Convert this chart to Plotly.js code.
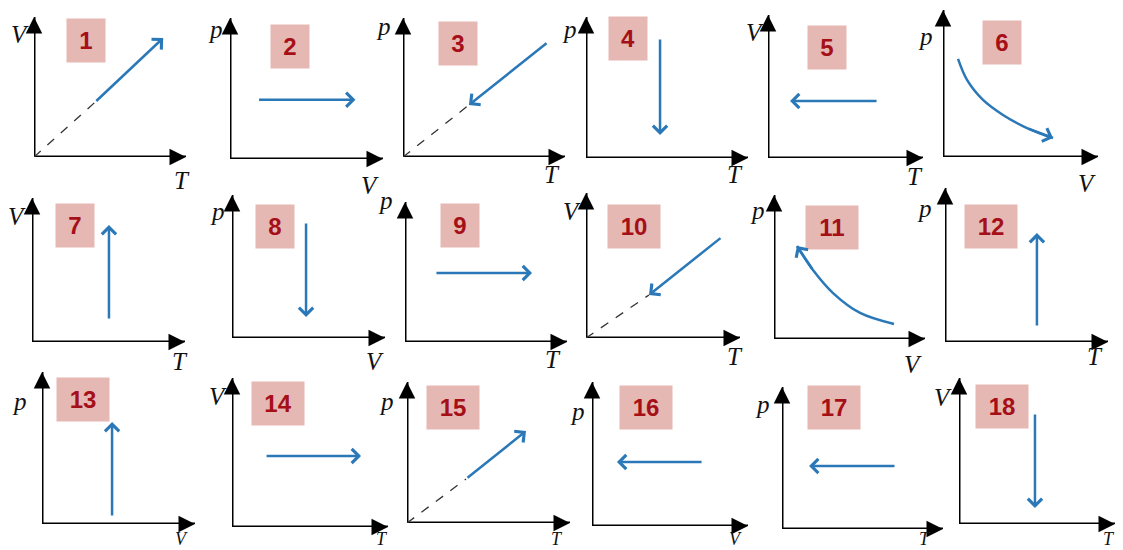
<!DOCTYPE html>
<html>
<head>
<meta charset="utf-8">
<script src="https://cdn.plot.ly/plotly-3.0.1.min.js"></script>
<style>
  html, body { margin: 0; padding: 0; background: #fff; }
  #chart { width: 1123px; height: 550px; }
</style>
</head>
<body>
<div id="chart"></div>
<script>
// Process diagrams: 18 small p-V-T panels, each drawn in its own 0..10 axes

// Panel numbers and axis names
const panelIds = ['1','2','3','4','5','6','7','8','9','10','11','12','13','14','15','16','17','18'];
const yNames = ['V','p','p','p','V','p','V','p','p','V','p','p','p','V','p','p','p','V'];
const xNames = ['T','V','T','T','T','V','T','V','T','T','V','T','V','T','T','V','T','T'];

// Straight process arrows: start and end point in panel units (null = curved panel)
const arrowFrom = [
  [4.0, 3.9], [1.8, 4.2], [8.95, 8.27], [4.57, 8.51], [7.10, 3.99], null,
  [5.03, 1.53], [4.84, 8.11], [1.85, 4.93], [8.83, 6.97], null, [5.64, 0.97],
  [4.58, 0.46], [2.12, 4.77], [3.62, 3.12], [7.12, 4.44], [7.08, 4.44], [4.87, 7.60]
];
const arrowTo = [
  [8.5, 8.5], [8.2, 4.2], [4.07, 3.74], [4.57, 1.63], [1.42, 3.99], null,
  [5.03, 8.13], [4.84, 1.47], [7.84, 4.93], [4.09, 2.97], null, [5.64, 7.08],
  [4.58, 6.71], [8.27, 4.77], [7.30, 6.52], [1.60, 4.44], [1.68, 4.44], [4.87, 1.10]
];

// Isotherm curves (panel 6 runs down-right, panel 11 runs up-left)
const curve6V = [0.97, 1.55, 2.58, 3.87, 5.42, 7.10];
const curve6P = [6.67, 5.24, 3.88, 2.86, 1.97, 1.29];
const curve11V = [7.95, 5.70, 3.91, 2.58, 1.52];
const curve11P = [1.04, 1.81, 3.19, 4.79, 6.46];

// Panels whose line is extended back to the origin with a dashed line
const dashedPanels = [1, 3, 10, 15];

// ---- layout geometry (pixels): origin x, origin y, x-axis end, y-axis top
const W = 1123, H = 550;
const panelGeom = [
  [34, 157, 186, 17], [230, 159, 383, 18], [403, 157, 565, 18],
  [586, 158, 748, 17], [768, 158, 923, 15], [943, 157, 1098, 10],
  [32, 342, 185, 198], [232, 338, 385, 195], [405, 342, 567, 202],
  [586, 338, 740, 193], [774, 339, 925, 195], [945, 342, 1108, 188],
  [42, 524, 195, 372], [232, 527, 388, 378], [407, 523, 570, 382],
  [592, 526, 748, 382], [782, 529, 943, 387], [959, 524, 1115, 378]
];
// number box centres, axis name positions (panel units)
const boxPos = [
  [3.39, 8.29], [3.95, 7.98], [3.40, 8.13], [2.62, 8.51], [3.81, 7.73], [3.81, 7.76],
  [2.84, 8.09], [2.84, 7.83], [3.40, 8.29], [3.12, 7.72], [3.84, 7.74], [2.82, 7.47],
  [2.68, 8.19], [2.95, 8.32], [2.82, 8.19], [3.46, 8.26], [3.26, 8.56], [2.76, 8.05]
];
const yNamePos = [
  [-0.92, 9.07], [-0.98, 9.5], [-1.2, 9.7], [-0.99, 9.43], [-0.84, 9.09], [-1.16, 8.44],
  [-0.98, 8.96], [-0.92, 9.16], [-1.23, 10.36], [-0.91, 8.97], [-1.06, 9.17], [-1.23, 8.9],
  [-1.44, 8.29], [-0.90, 9.0], [-1.23, 8.87], [-0.90, 8.26], [-1.24, 9.08], [-1.03, 8.97]
];
// bottom row names sit on the page's lower edge, so only their u is used
const xNamePos = [
  [9.74, -1.36], [9.15, -1.63], [9.2, -0.94], [9.2, -0.92], [9.48, -0.98], [9.29, -1.56],
  [9.67, -1.11], [9.35, -1.33], [9.14, -0.93], [9.68, -1.03], [9.2, -1.46], [9.2, -0.71],
  [9.1, 0], [9.6, 0], [9.2, 0], [9.17, 0], [8.9, 0], [9.6, 0]
];

const BLUE = '#2a78b8';
const BOX_BG = '#e6b8b3';
const BOX_TEXT = '#a50f18';
const AXIS_FONT = { family: 'Liberation Serif, DejaVu Serif, serif', size: 25, color: '#111', style: 'italic' };
const AXIS_FONT_LOW = { family: 'Liberation Serif, DejaVu Serif, serif', size: 18, color: '#111', style: 'italic' };

// panel units -> paper fraction (text that sits outside the 0..10 range)
function toPaper(i, u, v) {
  const g = panelGeom[i];
  return [(g[0] + u / 10 * (g[2] - g[0])) / W, 1 - (g[1] - v / 10 * (g[1] - g[3])) / H];
}

const traces = [];
const annotations = [];
const layout = {
  width: W,
  height: H,
  margin: { l: 0, r: 0, t: 0, b: 0 },
  paper_bgcolor: '#fff',
  plot_bgcolor: 'rgba(0,0,0,0)',
  showlegend: false,
  hovermode: false,
  annotations: annotations
};

panelIds.forEach(function(id, i) {
  const n = i + 1;
  const xa = n === 1 ? 'x' : 'x' + n;
  const ya = n === 1 ? 'y' : 'y' + n;
  const g = panelGeom[i];

  layout[n === 1 ? 'xaxis' : 'xaxis' + n] = {
    domain: [g[0] / W, g[2] / W], range: [0, 10], anchor: ya, visible: false, fixedrange: true
  };
  layout[n === 1 ? 'yaxis' : 'yaxis' + n] = {
    domain: [1 - g[1] / H, 1 - g[3] / H], range: [0, 10], anchor: xa, visible: false, fixedrange: true
  };

  // axes (L shape)
  traces.push({
    x: [0, 0, 10], y: [10, 0, 0], xaxis: xa, yaxis: ya,
    type: 'scatter', mode: 'lines', cliponaxis: false, hoverinfo: 'skip',
    line: { color: '#000', width: 3 }
  });
  // axis arrowheads
  [[10, 0, 9.5, 0], [0, 10, 0, 9.5]].forEach(function(a) {
    annotations.push({
      xref: xa, yref: ya, axref: xa, ayref: ya,
      x: a[0], y: a[1], ax: a[2], ay: a[3], text: '',
      showarrow: true, arrowhead: 2, arrowsize: 1.1, arrowwidth: 3, arrowcolor: '#000', standoff: 0
    });
  });

  // axis names (glyphs sit a little high in their box, so nudge down)
  const yp = toPaper(i, yNamePos[i][0], yNamePos[i][1]);
  const xp = toPaper(i, xNamePos[i][0], xNamePos[i][1]);
  const lastRow = i >= 12;
  annotations.push({
    xref: 'paper', yref: 'paper', x: yp[0], y: yp[1], text: yNames[i], yshift: -4,
    showarrow: false, font: AXIS_FONT, xanchor: 'center', yanchor: 'middle'
  });
  annotations.push({
    xref: 'paper', yref: 'paper', x: xp[0], y: lastRow ? 0 : xp[1], text: xNames[i],
    yshift: lastRow ? 0 : -4, yanchor: lastRow ? 'bottom' : 'middle', borderpad: 0,
    showarrow: false, font: lastRow ? AXIS_FONT_LOW : AXIS_FONT, xanchor: 'center'
  });

  // number box
  annotations.push({
    xref: xa, yref: ya, x: boxPos[i][0], y: boxPos[i][1], text: id,
    showarrow: false, bgcolor: BOX_BG, borderpad: 0,
    width: id.length > 1 ? 52 : 38, height: 43,
    font: { family: 'Liberation Sans, Arial, sans-serif', size: 24, color: BOX_TEXT, weight: 'bold' }
  });

  // process
  const from = arrowFrom[i];
  const to = arrowTo[i];
  if (from && to) {
    if (dashedPanels.indexOf(n) >= 0) {
      const near = (from[0] + from[1] < to[0] + to[1]) ? from : to;
      traces.push({
        x: [0, near[0]], y: [0, near[1]], xaxis: xa, yaxis: ya,
        type: 'scatter', mode: 'lines', cliponaxis: false, hoverinfo: 'skip',
        line: { color: '#333', width: 1.3, dash: 'dash' }
      });
    }
    annotations.push({
      xref: xa, yref: ya, axref: xa, ayref: ya,
      x: to[0], y: to[1], ax: from[0], ay: from[1], text: '',
      showarrow: true, arrowhead: 4, arrowsize: 1.1, arrowwidth: 2.5, arrowcolor: BLUE, standoff: 0
    });
  }
});

// curved isotherms
[[6, curve6V, curve6P], [11, curve11V, curve11P]].forEach(function(c) {
  const xa = 'x' + c[0], ya = 'y' + c[0];
  const xs = c[1], ys = c[2], k = xs.length;
  traces.push({
    x: xs, y: ys, xaxis: xa, yaxis: ya,
    type: 'scatter', mode: 'lines', cliponaxis: false, hoverinfo: 'skip',
    line: { color: BLUE, width: 2.5, shape: 'spline' }
  });
  annotations.push({
    xref: xa, yref: ya, axref: xa, ayref: ya,
    x: xs[k - 1], y: ys[k - 1], ax: xs[k - 2], ay: ys[k - 2], text: '',
    showarrow: true, arrowhead: 4, arrowsize: 1.1, arrowwidth: 2.5, arrowcolor: BLUE, standoff: 0
  });
});

Plotly.newPlot('chart', traces, layout, { staticPlot: true, displayModeBar: false });
</script>
</body>
</html>
